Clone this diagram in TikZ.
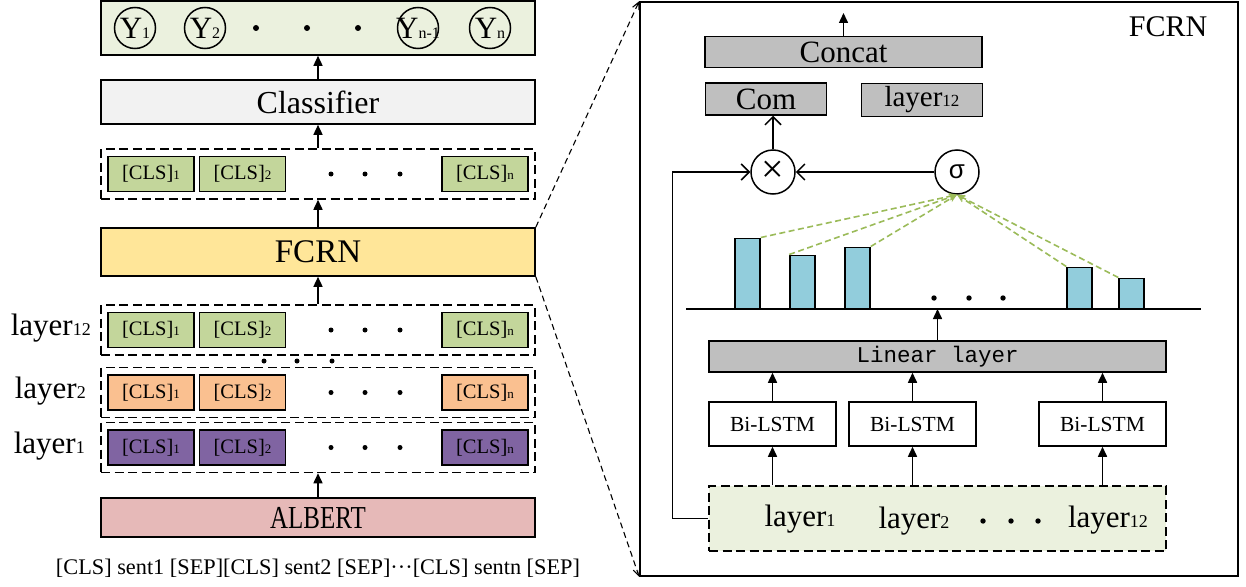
\documentclass[tikz,border=0pt]{standalone}
\usepackage{fontspec}
\setmainfont{Liberation Serif}
\newfontfamily\sansgreek{Liberation Sans}
\newfontfamily\stretchserif[FakeStretch=0.78]{Liberation Serif}
\newfontfamily\monotext{Liberation Mono}
\usetikzlibrary{arrows.meta}

\definecolor{outgreen}{HTML}{EBF1DE}
\definecolor{clsgreen}{HTML}{C3D69B}
\definecolor{clspeach}{HTML}{FAC090}
\definecolor{clspurple}{HTML}{8064A2}
\definecolor{clfgray}{HTML}{F2F2F2}
\definecolor{fcrnyellow}{HTML}{FFE699}
\definecolor{albertpink}{HTML}{E6B9B8}
\definecolor{boxgray}{HTML}{BFBFBF}
\definecolor{barblue}{HTML}{92CDDC}
\definecolor{attgreen}{HTML}{9BBB59}

\newcommand{\idx}[2][14]{{\fontsize{#1}{#1}\selectfont #2}}

\begin{document}
\begin{tikzpicture}[x=1pt,y=-1pt,
  widebox/.style={draw, line width=1.6pt, minimum width=434pt, inner sep=0pt},
  clsrow/.style={draw, dash pattern=on 9pt off 4.5pt, line width=1.5pt, minimum width=434pt, minimum height=50pt},
  cls/.style={draw, line width=1.5pt, minimum width=86pt, minimum height=35pt, inner sep=0pt, font=\fontsize{20.5}{20.5}\selectfont},
  ycirc/.style={draw, circle, line width=1.5pt, minimum size=41pt, inner sep=0pt, font=\fontsize{31}{31}\selectfont},
  arr/.style={line width=1.5pt, -{Triangle[length=10pt,width=9pt]}},
  openarr/.style={line width=1.5pt, -{Straight Barb[length=8pt,width=16pt]}},
  zoomline/.style={line width=1.1pt, dash pattern=on 6pt off 4pt, -{Straight Barb[length=7pt,width=7pt]}},
  graybox/.style={draw, line width=1.5pt, fill=boxgray, inner sep=0pt},
  attbar/.style={draw, line width=1.5pt, fill=barblue, minimum width=25pt, inner sep=0pt, anchor=south},
  att/.style={attgreen, line width=1.6pt, dash pattern=on 6pt off 3.5pt, -{Stealth[length=8pt,width=7pt]}},
  lab/.style={font=\fontsize{31}{31}\selectfont, inner sep=0pt}
]
\useasboundingbox (0,0) rectangle (1246,586);

% left column
\node[widebox, fill=outgreen, minimum height=54pt] (out) at (318,28) {};
\node[ycirc] (y1) at (135,28) {\makebox[0pt]{Y\idx[16]{1}}};
\node[ycirc] (y2) at (205,28) {\makebox[0pt]{Y\idx[16]{2}}};
\node[ycirc] (yn1) at (418,28) {\makebox[0pt]{Y\idx[16]{n-1}}};
\node[ycirc] (yn) at (490,28) {\makebox[0pt]{Y\idx[16]{n}}};
\foreach \dx in {256,307,358} \fill (\dx,28) circle (3);

\node[widebox, fill=clfgray, minimum height=44pt, font=\fontsize{32}{32}\selectfont] (clf) at (318,102) {Classifier};

\foreach \r/\yy/\col in {top/174/clsgreen, l12/330/clsgreen, l2/392.5/clspeach, l1/447.5/clspurple} {
  \node[clsrow] (\r) at (318,\yy) {};
  \node[cls, fill=\col] (\r-a) at (151,\yy) {[CLS]\idx[13]{1}};
  \node[cls, fill=\col] (\r-b) at (242.5,\yy) {[CLS]\idx[13]{2}};
  \node[cls, fill=\col] (\r-n) at (485,\yy) {[CLS]\idx[13]{n}};
  \foreach \dx in {331,365,400} \fill (\dx,\yy) circle (2.5);
}
\foreach \dx in {264,297,332} \fill (\dx,361) circle (2.5);

\node[widebox, fill=fcrnyellow, minimum height=48pt, font=\fontsize{33}{33}\selectfont] (fcrn) at (318,252) {FCRN};
\node[widebox, fill=albertpink, minimum height=39pt, font=\stretchserif\fontsize{32}{32}\selectfont] (albert) at (318,517.5) {ALBERT};

\node[lab, anchor=base east] (lab12) at (91,335) {layer\idx[18]{12}};
\node[lab, anchor=base east] (lab2) at (86,398) {layer\idx[18]{2}};
\node[lab, anchor=base east] (lab1) at (85,453) {layer\idx[18]{1}};
\node[font=\fontsize{22.3}{22.3}\selectfont, anchor=base, inner sep=0pt] (inp) at (318,574) {[CLS] sent1 [SEP][CLS] sent2 [SEP]···[CLS] sentn [SEP]};

\draw[arr] (clf) -- (out);
\draw[arr] (top) -- (clf);
\draw[arr] (fcrn) -- (top);
\draw[arr] (l12) -- (fcrn);
\draw[arr] (albert) -- (l1);

% FCRN detail
\node[draw, line width=1.6pt, minimum width=598pt, minimum height=574pt, inner sep=0pt] (panel) at (939,289) {};
\draw[zoomline] (fcrn.north east) -- (panel.north west);
\draw[zoomline] (fcrn.south east) -- (panel.south west);
\node[font=\fontsize{30}{30}\selectfont] (title) at (1168,27) {FCRN};

\node[graybox, minimum width=277pt, minimum height=31pt, font=\fontsize{31}{31}\selectfont] (concat) at (843.5,52) {Concat};
\coordinate (outtop) at (843.5,13);
\draw[arr] (concat) -- (outtop);
\node[graybox, minimum width=121pt, minimum height=32pt, font=\fontsize{31}{31}\selectfont] (com) at (766,99) {Com};
\node[graybox, minimum width=121pt, minimum height=33pt, font=\fontsize{29}{29}\selectfont] (top12) at (922,100) {layer\idx[17]{12}};

\node[draw, circle, line width=1.5pt, minimum size=44pt, inner sep=0pt, font=\fontsize{40}{40}\selectfont] (mul) at (773,172) {\raisebox{-2pt}{×}};
\node[draw, circle, line width=1.5pt, minimum size=44pt, inner sep=0pt, font=\sansgreek\fontsize{26}{26}\selectfont] (sig) at (957,172) {σ};
\draw[openarr] (mul) -- (mul |- com.south);
\draw[openarr] (sig) -- (mul);

\coordinate (bl) at (686,309);
\coordinate (br) at (1201,309);
\draw[line width=1.8pt] (bl) -- (br);
\node[attbar, minimum height=70pt] (b1) at (747.5,309) {};
\node[attbar, minimum height=53pt] (b2) at (802.5,309) {};
\node[attbar, minimum height=61pt] (b3) at (857.5,309) {};
\node[attbar, minimum height=41pt] (b4) at (1079.5,309) {};
\node[attbar, minimum height=30pt] (b5) at (1131.5,309) {};
\foreach \dx in {934,969,1003} \fill (\dx,298) circle (2.7);
\foreach \b/\a in {b1/north east, b2/north west, b3/north east, b4/north west, b5/north west}
  \draw[att] (\b.\a) -- (sig.south);

\node[graybox, minimum width=457pt, minimum height=31pt, font=\monotext\fontsize{22.5}{22.5}\selectfont] (lin) at (937.5,356.5) {Linear layer};
\draw[arr] (lin) -- (lin |- bl);

\node[draw, dash pattern=on 9pt off 4.5pt, line width=1.5pt, fill=outgreen, minimum width=457pt, minimum height=65pt] (lays) at (937.5,518.5) {};
\node[lab] (in1) at (800,519) {layer\idx[18]{1}};
\node[lab] (in2) at (914,521) {layer\idx[18]{2}};
\foreach \dx in {983,1011,1038} \fill (\dx,521) circle (2.7);
\node[lab] (in12) at (1108,520) {layer\idx[18]{12}};

\foreach \n/\xx in {1/772.5, 2/912.5, 3/1102.5} {
  \node[draw, line width=1.5pt, minimum width=127pt, minimum height=44pt, font=\fontsize{21.5}{21.5}\selectfont] (bi\n) at (\xx,424) {Bi-LSTM};
  \draw[arr] (bi\n) -- (bi\n |- lin.south);
  \draw[arr] (bi\n |- lays.north) -- (bi\n);
}
\draw[openarr] (lays.west) -- ++(-36,0) |- (mul);
\end{tikzpicture}
\end{document}
